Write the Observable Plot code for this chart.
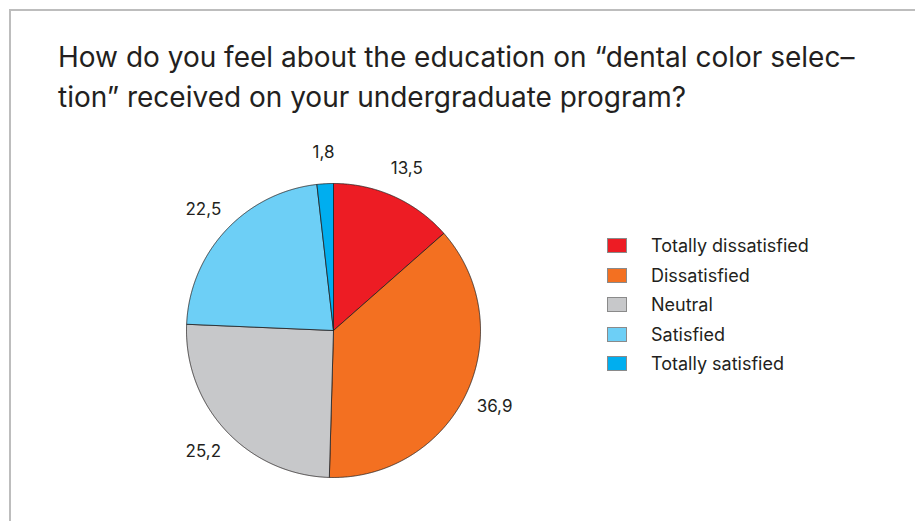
<!DOCTYPE html>
<html><head><meta charset="utf-8">
<script src="https://cdn.jsdelivr.net/npm/d3@7"></script>
<script src="https://cdn.jsdelivr.net/npm/@observablehq/plot@0.6"></script>
<style>
html,body{margin:0;padding:0;background:#fff;}
#root{position:relative;width:915px;height:521px;overflow:hidden;font-family:Inter,"Noto Sans",sans-serif;color:#231f20;}
#frame{position:absolute;left:9px;top:9px;width:920px;height:530px;border-top:2px solid #bdbdbd;border-left:2px solid #bdbdbd;}
#title{position:absolute;left:58px;top:37px;font-size:28px;line-height:40px;white-space:nowrap;font-weight:400;}
#chart{position:absolute;left:0;top:130px;}
#legend{position:absolute;left:607px;top:231px;font-size:18px;}
.row{display:flex;align-items:center;height:29.5px;}
.sw{width:18px;height:13px;border:1px solid #8a8a8a;margin-right:24px;}
</style></head><body>
<div id="root"><div id="frame"></div><div id="title"></div><div id="chart"></div><div id="legend"></div></div>
<script>
const categories = ["Totally dissatisfied","Dissatisfied","Neutral","Satisfied","Totally satisfied"];
const values = [13.5, 36.9, 25.2, 22.5, 1.8];
const valueLabels = ["13,5","36,9","25,2","22,5","1,8"];
const colors = ["#ED1C24","#F37021","#C7C8CA","#6DCFF6","#00AEEF"];
const titleLines = ["How do you feel about the education on “dental color selec–", "tion” received on your undergraduate program?"];

const rows = categories.map((c,i)=>({category:c, value:values[i], label:valueLabels[i]}));
const arcs = d3.pie().sort(null).value(d=>d.value)(rows);

const pts = [];
for (const a of arcs) {
  const c = a.data.category;
  pts.push({category:c, x:0, y:0});
  const n = Math.max(4, Math.ceil((a.endAngle - a.startAngle)/0.005));
  for (let k=0;k<=n;k++){
    const t = a.startAngle + (a.endAngle - a.startAngle)*k/n;
    pts.push({category:c, x:Math.sin(t), y:Math.cos(t)});
  }
  pts.push({category:c, x:0, y:0});
}
const labelR = 1.21;
const labelData = arcs.map(a=>{
  const t = (a.startAngle + a.endAngle)/2;
  return {label:a.data.label, x:labelR*Math.sin(t), y:labelR*Math.cos(t)};
});

document.getElementById("title").innerHTML = titleLines.join("<br>");

const chart = Plot.plot({
  width:915, height:391,
  marginLeft:186, marginRight:435, marginTop:53, marginBottom:44,
  x:{domain:[-1,1], axis:null},
  y:{domain:[-1,1], axis:null},
  color:{domain:categories, range:colors},
  style:{fontFamily:"Inter, 'Noto Sans', sans-serif", overflow:"visible", background:"transparent"},
  marks:[
    Plot.line(pts,{x:"x", y:"y", z:"category", fill:"category", stroke:"#231f20", strokeWidth:0.8, curve:"linear"}),
    Plot.text(labelData,{x:"x", y:"y", text:"label", fontSize:17, fill:"#231f20"})
  ]
});
document.getElementById("chart").appendChild(chart);

const leg = document.getElementById("legend");
categories.forEach((c,i)=>{
  const r = document.createElement("div"); r.className="row";
  const s = document.createElement("div"); s.className="sw"; s.style.background = colors[i];
  const t = document.createElement("span"); t.textContent = c;
  r.appendChild(s); r.appendChild(t); leg.appendChild(r);
});
</script>
</body></html>
